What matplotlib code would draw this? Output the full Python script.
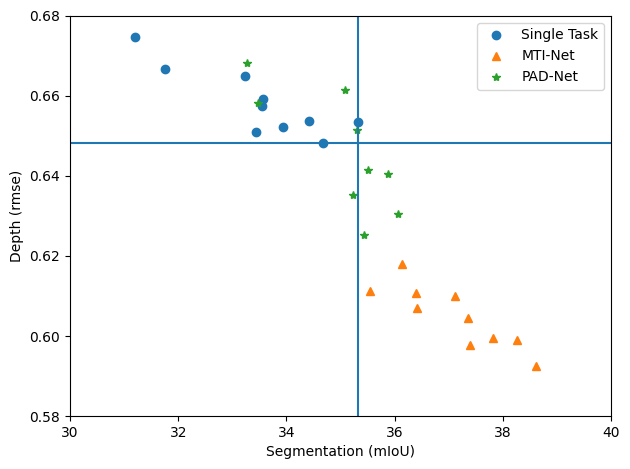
import matplotlib
matplotlib.use("Agg")
import matplotlib.pyplot as plt

# Single Task
st_seg = [31.20, 31.76, 33.24, 33.57, 33.55, 33.44, 33.94, 34.42, 34.68, 35.33]
st_depth = [0.6747, 0.6667, 0.6649, 0.6593, 0.6574, 0.6509, 0.6522, 0.6537, 0.6482, 0.6535]

# MTI-Net
mti_seg = [36.14, 35.55, 36.40, 36.42, 37.12, 37.36, 37.40, 37.82, 38.27, 38.62]
mti_depth = [0.6181, 0.6113, 0.6108, 0.6071, 0.6101, 0.6046, 0.5978, 0.5996, 0.5991, 0.5926]

# PAD-Net
pad_seg = [33.27, 33.48, 35.09, 35.30, 35.51, 35.87, 35.23, 36.07, 35.44]
pad_depth = [0.6683, 0.6583, 0.6615, 0.6515, 0.6415, 0.6405, 0.6353, 0.6305, 0.6252]

# reference lines
ref_seg = 35.32
ref_depth = 0.6482

fig, ax = plt.subplots(figsize=(6.3, 4.69), dpi=100)
ax.plot(st_seg, st_depth, "o", label="Single Task")
ax.plot(mti_seg, mti_depth, "^", label="MTI-Net")
ax.plot(pad_seg, pad_depth, "*", label="PAD-Net")
ax.axhline(ref_depth)
ax.axvline(ref_seg)
ax.set_xlim(30, 40)
ax.set_ylim(0.58, 0.68)
ax.set_xlabel("Segmentation (mIoU)")
ax.set_ylabel("Depth (rmse)")
ax.legend(loc="upper right")
fig.subplots_adjust(left=0.1111, right=0.9698, top=0.9659, bottom=0.1130)
plt.savefig("out.png")
